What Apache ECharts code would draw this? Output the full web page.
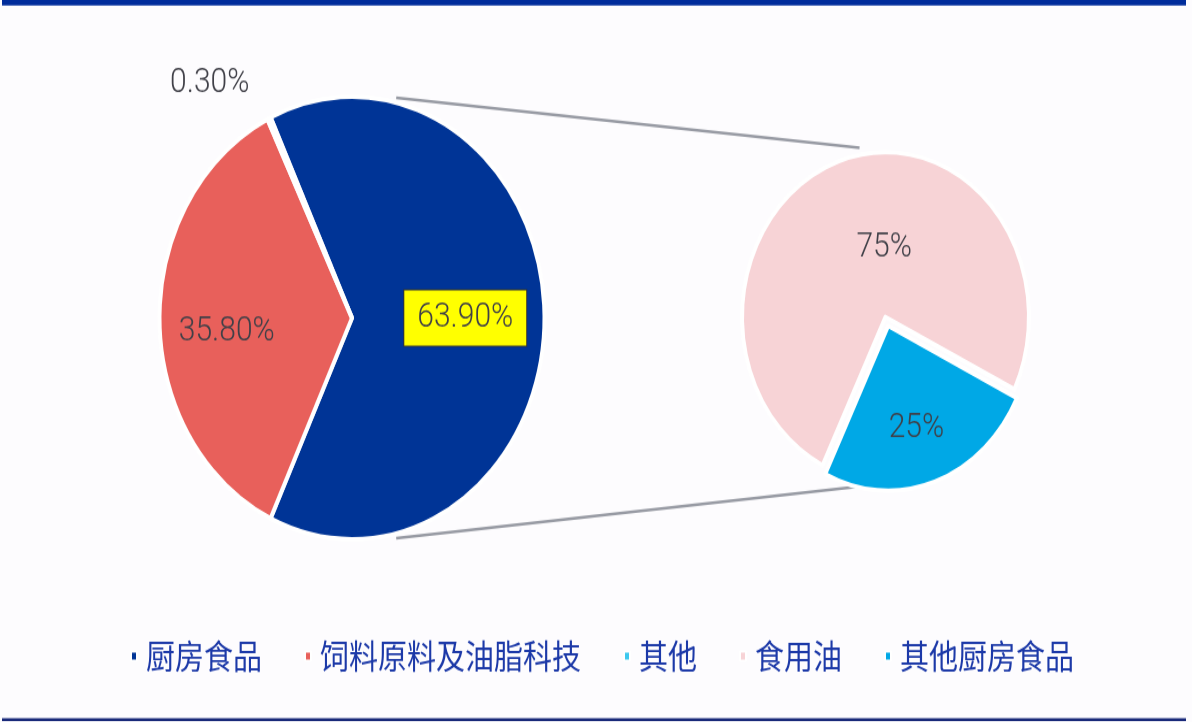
<!DOCTYPE html>
<html>
<head>
<meta charset="utf-8">
<title>厨房食品收入构成</title>
<script src="https://cdn.jsdelivr.net/npm/echarts@6/dist/echarts.min.js"></script>
<style>
html{overflow:hidden;}
html,body{margin:0;padding:0;background:#fdfcfe;height:722px;}
/* 原图整体被纵向拉伸，饼图是椭圆，这里用 scaleY 还原 */
#main{width:1192px;height:628px;transform:scaleY(1.15);transform-origin:0 0;}
</style>
</head>
<body>
<div id="main"></div>
<script>
//主饼图数据
var mainNames=['厨房食品','饲料原料及油脂科技','其他'];
var mainValues=[63.9,35.8,0.3];
var mainColors=['#003496','#e8605b','#3cc8ee'];
//子饼图数据（厨房食品拆分）
var subNames=['食用油','其他厨房食品'];
var subValues=[75,25];
var subColors=['#f7d3d6','#00a8e6'];

var leftC=[352,276.5],leftR=192.5;
var rightC=[885.5,275.7],rightR=143.5;

init_chart();

function extend(a,b){
	var o={},k;
	for(k in a){o[k]=a[k];}
	for(k in b){o[k]=b[k];}
	return o;
}

function init_chart(){
	var chart=echarts.init(document.getElementById('main'));

	var mainData=[];
	for(var i=0;i<mainNames.length;i++){
		mainData.push({name:mainNames[i],value:mainValues[i],itemStyle:{color:mainColors[i]}});
	}
	//单独的标签位置微调
	mainData[0].label={offset:[14,0],backgroundColor:'#ffff00',borderColor:'#333',borderWidth:1,padding:[9,13]};
	mainData[1].label={offset:[-26,11]};
	mainData[2].label={position:'outside',offset:[-6,-12]};
	mainData[2].labelLine={show:false,length:20,length2:0};

	var subData=[];
	for(var j=0;j<subNames.length;j++){
		subData.push({name:subNames[j],value:subValues[j],itemStyle:{color:subColors[j]}});
	}
	subData[0].label={offset:[23,10]};
	//选中（分离）的扇区，选中态标签也要带偏移
	subData[1].selected=true;
	subData[1].label={offset:[4,19]};
	subData[1].select={label:{offset:[4,19]}};

	//连接线
	function pt(c,r,deg){
		var a=deg*Math.PI/180;
		return [c[0]+r*Math.cos(a),c[1]-r*Math.sin(a)];
	}
	var lineStyle={stroke:'#979aa3',lineWidth:2.5};
	var t1=pt(leftC,leftR+4,77),t2=pt(rightC,rightR+6,100);
	var b1=pt(leftC,leftR+4,-77),b2=pt(rightC,rightR+6,-100);

	var labelStyle={
		show:true,
		position:'inside',
		color:'#404048',
		fontFamily:'Roboto',
		fontWeight:300,
		fontSize:30
	};

	var option={
		backgroundColor:'#fdfcfe',
		animation:false,
		graphic:[
			{type:'rect',z:100,shape:{x:2,y:0,width:1184,height:4.8},style:{fill:'#002c9b'}},
			{type:'rect',z:100,shape:{x:2,y:624.5,width:1184,height:2.5},style:{fill:'#1a2a7a'}},
			{type:'line',shape:{x1:t1[0],y1:t1[1],x2:t2[0],y2:t2[1]},style:lineStyle},
			{type:'line',shape:{x1:b1[0],y1:b1[1],x2:b2[0],y2:b2[1]},style:lineStyle}
		],
		legend:{
			show:true,
			left:125,
			top:551,
			itemWidth:6,
			itemHeight:8,
			itemGap:42,
			icon:'rect',
			data:mainNames.concat(subNames),
			textStyle:{
				color:'#1c39a8',
				fontSize:29,
				fontFamily:'Noto Sans CJK SC',
				padding:[0,0,0,4]
			}
		},
		series:[
			{
				name:'收入构成',
				type:'pie',
				center:leftC,
				radius:leftR,
				startAngle:115,
				clockwise:true,
				avoidLabelOverlap:false,
				itemStyle:{borderColor:'#ffffff',borderWidth:4},
				label:extend(labelStyle,{formatter:function(p){return p.value.toFixed(2)+'%';}}),
				labelLine:{show:false},
				data:mainData
			},
			{
				name:'厨房食品拆分',
				type:'pie',
				center:rightC,
				radius:rightR,
				startAngle:244,
				clockwise:true,
				selectedMode:'single',
				selectedOffset:8,
				avoidLabelOverlap:false,
				itemStyle:{borderColor:'#ffffff',borderWidth:4},
				label:extend(labelStyle,{formatter:function(p){return p.value+'%';}}),
				labelLine:{show:false},
				data:subData
			}
		]
	};
	chart.setOption(option);
}
</script>
</body>
</html>
